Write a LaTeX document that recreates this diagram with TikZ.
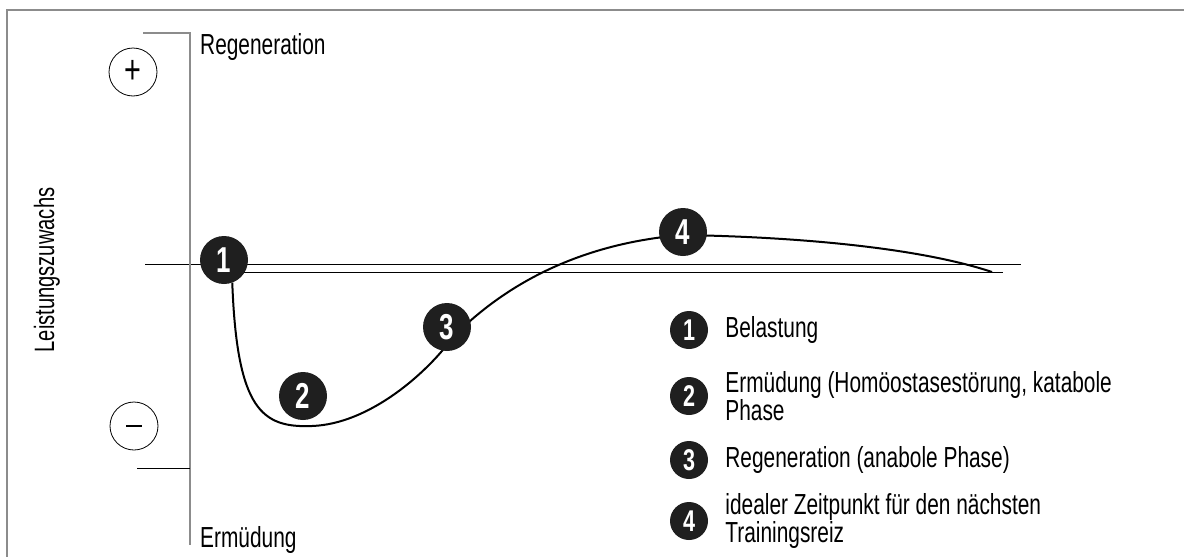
\documentclass[tikz,border=0pt]{standalone}
\usepackage{fontspec}
\setmainfont{Liberation Sans}[FakeStretch=0.72]
\usepackage{xcolor}
\usetikzlibrary{positioning,backgrounds}

\begin{document}
\begin{tikzpicture}[
    x=1pt, y=-1pt,
    every node/.style={font=\fontsize{29}{24}\selectfont},
    num/.style={circle, fill=black!88, text=white, minimum size=48pt, inner sep=0pt, font=\fontsize{36}{36}\selectfont\bfseries},
    key/.style={circle, fill=black!88, text=white, minimum size=38pt, inner sep=0pt, font=\fontsize{30}{30}\selectfont\bfseries},
    sign/.style={circle, draw, line width=0.8pt, minimum size=48pt, inner sep=0pt, font=\fontsize{40}{40}\selectfont},
    txt/.style={inner sep=0pt, align=left},
    axis/.style={draw=black!45, line width=1.2pt},
    curve/.style={line width=2pt}
]
\useasboundingbox (0,0) rectangle (1184,557);

% Frame
\draw[draw=black!45, line width=1.5pt] (7,557) -- (7,10) -- (1184,10);

% Axis
\coordinate (ax top) at (190,33);
\coordinate (ax bot) at (190,545);
\coordinate (tick top) at (143,33);
\coordinate (tick bot) at (137,468);
\draw[axis] (tick top) -- (ax top) -- (ax bot);
\draw[line width=1pt] (tick bot) -- (190,468);
\node[sign] (plus) at (133,72) {+};
\node[sign] (minus) at (134,426) {\rule{16pt}{1.3pt}};
\node[txt, anchor=west] (reg) at (200,47) {Regeneration};
\node[txt, anchor=west] (erm) at (200,540) {Ermüdung};
\node[rotate=90, font=\fontsize{28}{28}\selectfont] (ylabel) at (47,270) {Leistungszuwachs};

% Curve points
\node[num] (n1) at (224,260) {1};
\node[num] (n2) at (303,396) {2};
\node[num] (n3) at (447,327) {3};
\node[num] (n4) at (683,232) {4};
\coordinate (low) at (312,426);
\coordinate (c3) at (453,337);
\coordinate (c4) at (683,235);
\coordinate (end) at (992,272);

% Base lines and curve
\begin{scope}[on background layer]
\draw[line width=1pt] (145,264) -- (1021,264);
\draw[line width=1pt] (224,272) -- (1003,272);
\draw[curve] (n1.-70) .. controls (237,410) and (262,428) .. (low)
    .. controls (370,424) and (428,372) .. (c3)
    .. controls (490,300) and (560,245) .. (c4)
    .. controls (800,237) and (920,248) .. (end);
\end{scope}

% Legend
\node[key] (k1) at (689,330) {1};
\node[key] (k2) at (689,396) {2};
\node[key] (k3) at (689,460) {3};
\node[key] (k4) at (689,521) {4};
\node[txt, right=17pt of k1] (t1) {Belastung};
\node[txt, right=17pt of k2] (t2) {Ermüdung (Homöostasestörung, katabole\\Phase};
\node[txt, right=17pt of k3] (t3) {Regeneration (anabole Phase)};
\node[txt, right=17pt of k4] (t4) {idealer Zeitpunkt für den nächsten\\Trainingsreiz};

\end{tikzpicture}
\end{document}
